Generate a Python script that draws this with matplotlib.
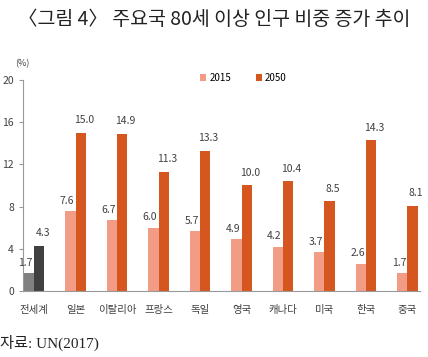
import numpy as np
import matplotlib.pyplot as plt

plt.rcParams['font.family'] = ['Noto Sans CJK KR', 'DejaVu Sans']

# Data
countries = ['전세계', '일본', '이탈리아', '프랑스', '독일', '영국', '캐나다', '미국', '한국', '중국']
val_2015 = [1.7, 7.6, 6.7, 6.0, 5.7, 4.9, 4.2, 3.7, 2.6, 1.7]
val_2050 = [4.3, 15.0, 14.9, 11.3, 13.3, 10.0, 10.4, 8.5, 14.3, 8.1]
yticks = [0, 4, 8, 12, 16, 20]

c15 = '#F29C85'
c50 = '#D5571F'
c15_world = '#808080'
c50_world = '#404040'

fig = plt.figure(figsize=(4.28, 3.57), dpi=100)
ax = fig.add_axes([0.054, 0.185, 0.927, 0.591])

x = np.arange(len(countries))
w = 0.25
cols15 = [c15_world] + [c15] * (len(countries) - 1)
cols50 = [c50_world] + [c50] * (len(countries) - 1)
b1 = ax.bar(x - w / 2, val_2015, width=w, color=cols15, label='2015')
b2 = ax.bar(x + w / 2, val_2050, width=w, color=cols50, label='2050')

for xi, v in zip(x, val_2015):
    ax.text(xi - w / 2 - 0.08, v + 0.5, f'{v:.1f}', ha='center', va='bottom',
            fontsize=7.5, color='#404040')
for xi, v in zip(x, val_2050):
    ax.text(xi + w / 2 + 0.08, v + 0.7, f'{v:.1f}', ha='center', va='bottom',
            fontsize=7.5, color='#404040')

ax.set_xlim(-0.265, 9.3)
ax.set_ylim(0, 20)
ax.set_yticks(yticks)
ax.set_xticks(x)
ax.set_xticklabels(countries, fontsize=7.5, color='#404040')
ax.tick_params(axis='y', labelsize=7.5, colors='#404040', length=3, color='#999999')
ax.tick_params(axis='x', length=0, pad=10)
for s in ['top', 'right']:
    ax.spines[s].set_visible(False)
ax.spines['left'].set_color('#999999')
ax.spines['bottom'].set_color('#999999')

ax.legend(handles=[b1[1], b2[1]], labels=['2015', '2050'], loc='upper left',
          bbox_to_anchor=(0.425, 1.075), ncol=2, frameon=False, fontsize=7,
          handlelength=0.6, handleheight=0.7, handletextpad=0.3, columnspacing=2.6)

fig.text(0.035, 0.815, '(%)', fontsize=6.5, color='#404040')
fig.text(0.5, 0.945, '〈그림 4〉 주요국 80세 이상 인구 비중 증가 추이', ha='center', va='center',
         fontsize=14, color='#222222', fontweight='light')
fig.text(0.0, 0.025, '자료: UN(2017)', fontsize=11, color='#222222',
         family=['Liberation Serif', 'Noto Sans CJK KR'])

fig.savefig('out.png', dpi=100)
